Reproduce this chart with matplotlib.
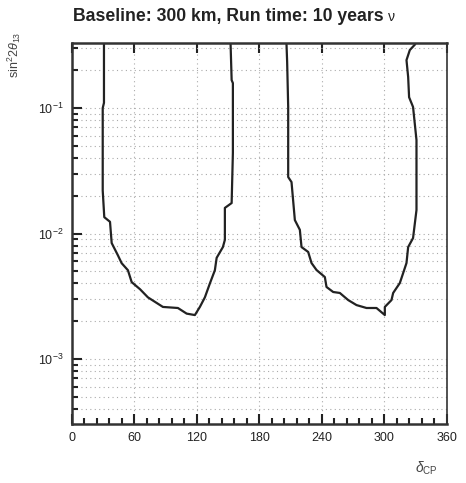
import numpy as np
import matplotlib.pyplot as plt
from matplotlib.ticker import MultipleLocator, LogLocator, NullFormatter

plt.rcParams['font.family'] = ['Liberation Sans', 'DejaVu Sans']
plt.rcParams['mathtext.fontset'] = 'custom'
plt.rcParams['mathtext.rm'] = 'Liberation Sans'
plt.rcParams['mathtext.it'] = 'Liberation Sans:italic'

# contour 1 (left band)
c1_dcp = [30.7, 30.7, 29.5, 29.5, 31.0, 36.5, 38.1, 44.1, 47.7, 53.7, 57.3, 65.3,
          72.9, 87.3, 101.7, 110.1, 118.0, 122.8, 127.6, 132.4, 137.2, 138.9,
          144.9, 146.8, 146.8, 153.3, 154.5, 154.5, 153.3, 152.3]
c1_s2t = [0.32, 0.11, 0.10, 0.022, 0.0135, 0.0124, 0.0084, 0.0067, 0.0058, 0.0051,
          0.0041, 0.0036, 0.0031, 0.0026, 0.00255, 0.0023, 0.00224, 0.0026, 0.0031,
          0.0040, 0.0051, 0.0064, 0.0078, 0.0089, 0.016, 0.0175, 0.044, 0.158,
          0.167, 0.32]

# contour 2 (right band)
c2_dcp = [206.0, 206.6, 207.6, 207.6, 210.8, 214.0, 218.8, 220.4, 226.8, 230.0,
          234.8, 242.8, 244.4, 250.8, 257.2, 265.2, 273.2, 282.8, 292.4, 300.4,
          300.4, 306.8, 308.4, 314.8, 318.0, 321.2, 322.8, 327.5, 330.8, 330.8,
          327.5, 323.7, 322.8, 321.2, 324.4, 329.2]
c2_s2t = [0.32, 0.233, 0.102, 0.0282, 0.0257, 0.0128, 0.0107, 0.0078, 0.00713,
          0.00582, 0.00512, 0.0045, 0.00375, 0.00342, 0.00336, 0.00295, 0.00269,
          0.00255, 0.00255, 0.00224, 0.0026, 0.00295, 0.00336, 0.00403, 0.00484,
          0.00582, 0.0078, 0.0092, 0.0154, 0.0556, 0.102, 0.122, 0.177, 0.241,
          0.29, 0.32]

fig = plt.figure(figsize=(4.66, 4.83), dpi=100)
ax = fig.add_axes([0.1545, 0.122, 0.8045, 0.789])

ax.plot(c1_dcp, c1_s2t, color='#222222', lw=1.6)
ax.plot(c2_dcp, c2_s2t, color='#222222', lw=1.6)

ax.set_yscale('log')
ax.set_xlim(0, 360)
ax.set_ylim(3.03e-4, 0.33)
ax.xaxis.set_major_locator(MultipleLocator(60))
ax.xaxis.set_minor_locator(MultipleLocator(12))
ax.yaxis.set_major_locator(LogLocator(base=10))
ax.yaxis.set_minor_locator(LogLocator(base=10, subs=np.arange(2, 10)))
ax.yaxis.set_minor_formatter(NullFormatter())

ax.grid(True, which='major', axis='both', ls=(0, (1, 3)), color='#aaaaaa', lw=0.8)
ax.grid(True, which='minor', axis='y', ls=(0, (1, 3)), color='#aaaaaa', lw=0.8)

ax.tick_params(which='both', direction='in', top=False, right=False, width=1.5,
               labelsize=9, colors='#222222')
ax.tick_params(which='major', length=7, pad=6)
ax.tick_params(which='minor', length=4)
ax.tick_params(axis='x', which='major', top=True)
for s in ax.spines.values():
    s.set_linewidth(1.8)
    s.set_color('#333333')
ax.spines['right'].set_linewidth(1.2)

fig.text(0.157, 0.966, 'Baseline: 300 km, Run time: 10 years', fontsize=12.7,
         fontweight='bold', ha='left', va='center', color='#222222')
fig.text(0.832, 0.964, '\u03bd', fontsize=10, ha='left', va='center', color='#222222')

fig.text(0.03, 0.935, r'sin$^{2}$2$\theta_{13}$', rotation=90, fontsize=9,
         ha='center', va='top', color='#444444')
fig.text(0.915, 0.03, r'$\delta_{\mathrm{CP}}$', fontsize=10, ha='center',
         va='center', color='#444444')

fig.savefig('out.png', dpi=100)
